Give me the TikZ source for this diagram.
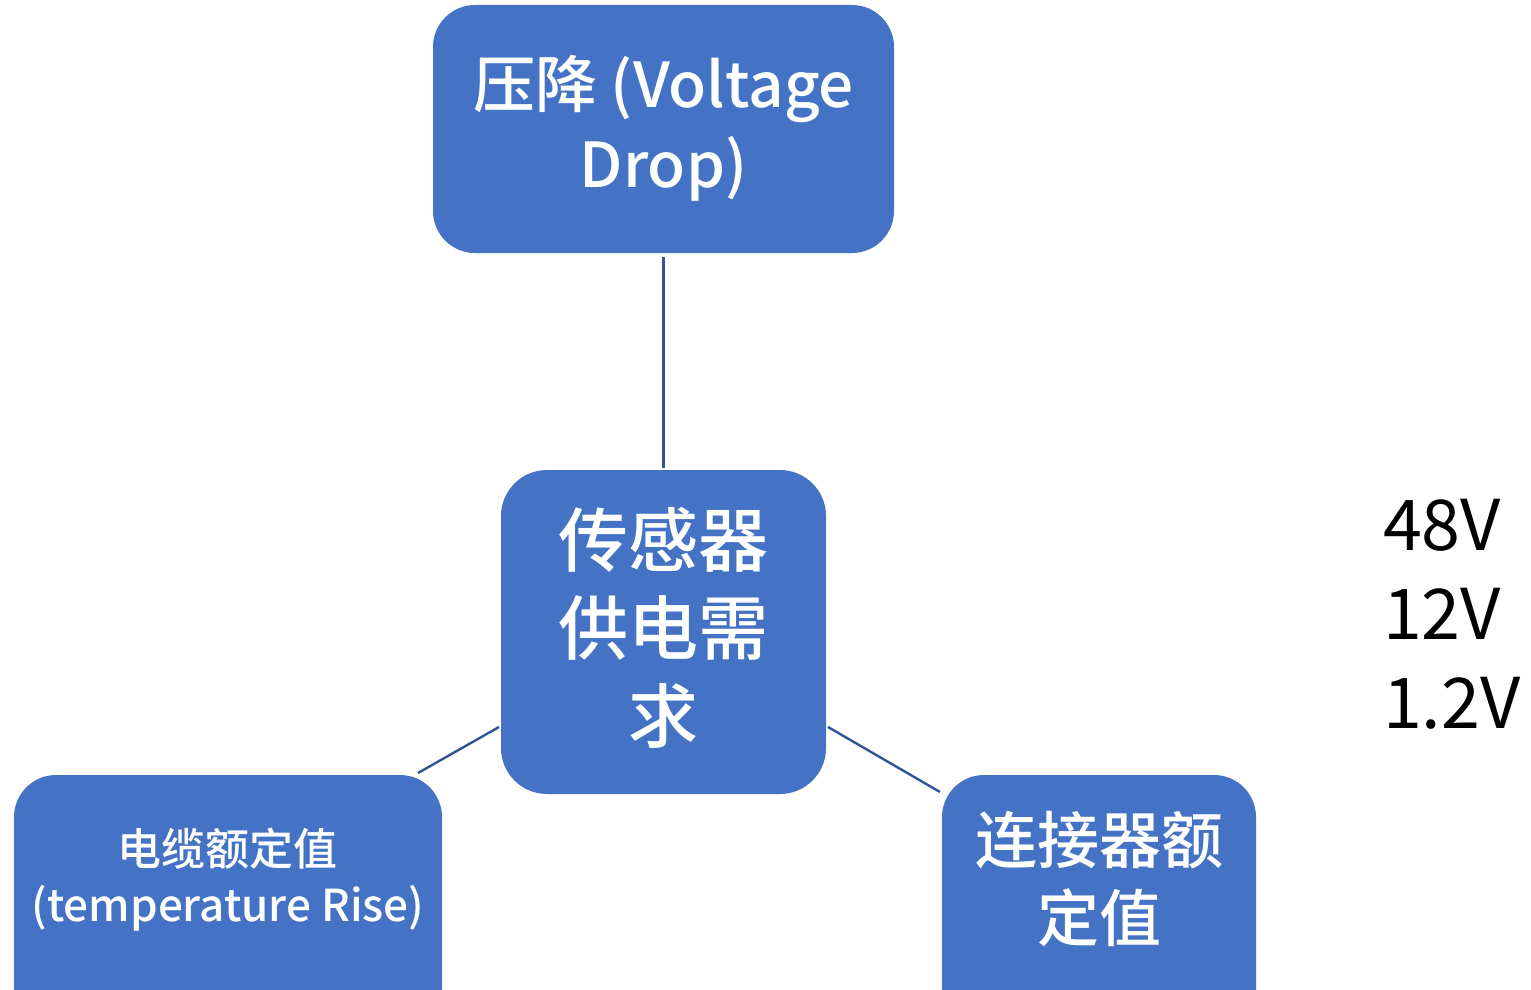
\documentclass[tikz,border=0pt]{standalone}
\usepackage{fontspec}
\setmainfont{Noto Sans CJK SC}
\newfontfamily\medfont{Noto Sans CJK SC Medium}
\definecolor{boxblue}{HTML}{4472C4}
\definecolor{lineblue}{HTML}{2F5597}
\tikzset{
  box/.style={draw=none, fill=boxblue, rounded corners=21pt, text=white, align=center, inner sep=0pt},
  link/.style={draw=lineblue, line width=1.2pt}
}
\begin{document}
\begin{tikzpicture}[x=0.5pt,y=-0.5pt]
\useasboundingbox (0,0) rectangle (1531,990);
\node[box, minimum width=230.5pt, minimum height=124pt] (top) at (663.5,129) {};
\node[text=white, align=center, font=\medfont\fontsize{31pt}{40pt}\selectfont] (toptext) at (663.5,128) {压降 (Voltage\\Drop)};
\node[box, rounded corners=23pt, minimum width=162.5pt, minimum height=162pt] (center) at (663.5,632) {};
\node[text=white, align=center, font=\medfont\fontsize{35pt}{44pt}\selectfont] (centertext) at (663.5,628) {传感器\\供电需\\求};
\node[box, minimum width=214pt, minimum height=130pt] (left) at (228,905) {};
\node[text=white, align=center, font=\medfont\fontsize{22pt}{28pt}\selectfont] (lefttext) at (228,880) {电缆额定值\\(temperature Rise)};
\node[box, minimum width=157pt, minimum height=130pt] (right) at (1099,905) {};
\node[text=white, align=center, font=\medfont\fontsize{31pt}{39pt}\selectfont] (righttext) at (1099,879) {连接器额\\定值};
\node[align=left, font=\fontsize{35pt}{44.5pt}\selectfont, anchor=west] (volts) at (1376,614) {48V\\12V\\1.2V};
\coordinate (cl) at (499,727);
\coordinate (ll) at (418,773);
\coordinate (cr) at (828,727);
\coordinate (rr) at (940,792);
\path (top.south) ++(0,4) coordinate (ts) (center.north) ++(0,-2) coordinate (cn);
\draw[link] (ts) -- (cn);
\draw[link] (cl) -- (ll);
\draw[link] (cr) -- (rr);
\end{tikzpicture}
\end{document}
